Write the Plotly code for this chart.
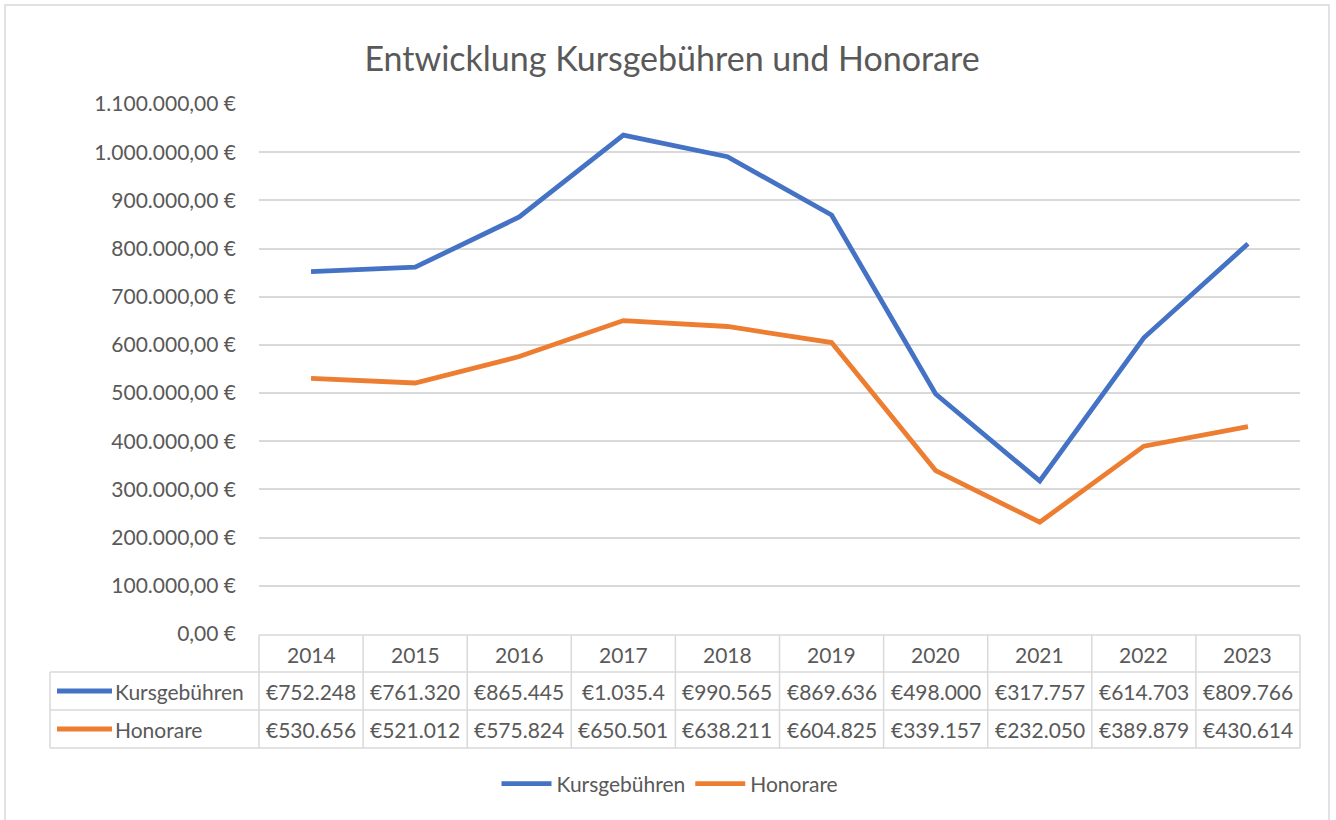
"""Entwicklung Kursgebühren und Honorare – line chart with Excel-style data table."""
import plotly.graph_objects as go

years = ["2014", "2015", "2016", "2017", "2018", "2019", "2020", "2021", "2022", "2023"]
kursgebuehren = [752248, 761320, 865445, 1035400, 990565, 869636, 498000, 317757, 614703, 809766]
honorare = [530656, 521012, 575824, 650501, 638211, 604825, 339157, 232050, 389879, 430614]
y_ticks = [i * 100000 for i in range(12)]

BLUE = "#4472C4"
ORANGE = "#ED7D31"
TEXT = "#595959"
GRID = "#D9D9D9"
FONT = "Lato"

W, H = 1336, 820
L, R, T, B = 259, 36, 104, 186
plot_w = W - L - R
plot_h = H - T - B


def px_x(x):
    """Pixel x -> paper x."""
    return (x - L) / plot_w


def px_y(y):
    """Pixel y (from top) -> paper y."""
    return (H - B - y) / plot_h


def euro_axis(v):
    s = f"{v:,.2f}".replace(",", "X").replace(".", ",").replace("X", ".")
    return s + " €"


def euro_cell(v, max_chars=8):
    # Excel clips the text that does not fit into the cell
    return ("€" + f"{v:,}".replace(",", "."))[:max_chars]


series = [("Kursgebühren", kursgebuehren, BLUE), ("Honorare", honorare, ORANGE)]

fig = go.Figure()
for name, values, color in series:
    fig.add_trace(go.Scatter(x=list(range(len(years))), y=values, name=name, mode="lines",
                             line=dict(color=color, width=4.8)))

# data table below the plot
row_y = [px_y(654), px_y(691), px_y(729)]
lines = [px_y(635), px_y(672), px_y(710), px_y(748)]
n = len(years)
left = px_x(50)
shapes = [dict(type="line", xref="paper", yref="paper", x0=0, x1=1, y0=lines[0], y1=lines[0])]
for yy in lines[1:]:
    shapes.append(dict(type="line", xref="paper", yref="paper", x0=left, x1=1, y0=yy, y1=yy))
shapes.append(dict(type="line", xref="paper", yref="paper", x0=left, x1=left, y0=lines[1], y1=lines[3]))
for k in range(n + 1):
    shapes.append(dict(type="line", xref="paper", yref="paper", x0=k / n, x1=k / n, y0=lines[0], y1=lines[3]))
for s in shapes:
    s["line"] = dict(color=GRID, width=1.5)

cell_font = dict(size=21, color=TEXT, family=FONT)
annotations = []
for i, yr in enumerate(years):
    annotations.append(dict(x=i, y=row_y[0], xref="x", yref="paper", text=yr, showarrow=False,
                            xanchor="center", yanchor="middle", font=cell_font))
for r, (name, values, color) in enumerate(series):
    yy = row_y[r + 1]
    shapes.append(dict(type="line", xref="paper", yref="paper", x0=px_x(57), x1=px_x(112), y0=yy, y1=yy,
                       line=dict(color=color, width=4.8)))
    annotations.append(dict(x=px_x(113), y=yy, xref="paper", yref="paper", text=name, showarrow=False,
                            xanchor="left", yanchor="middle", font=cell_font))
    for i, v in enumerate(values):
        annotations.append(dict(x=i, y=yy, xref="x", yref="paper", text=euro_cell(v), showarrow=False,
                                xanchor="center", yanchor="middle", font=cell_font))

# chart border
shapes.append(dict(type="rect", xref="paper", yref="paper", x0=px_x(5), x1=px_x(1329), y0=px_y(840), y1=px_y(5),
                   line=dict(color=GRID, width=1.5), layer="below"))

fig.update_layout(
    width=W, height=H,
    margin=dict(l=L, r=R, t=T, b=B),
    paper_bgcolor="white", plot_bgcolor="white",
    font=dict(family=FONT, color=TEXT, size=21),
    title=dict(text="Entwicklung Kursgebühren und Honorare", x=672 / W, xref="container",
               xanchor="center", y=1 - 59 / H, yref="container", yanchor="middle",
               font=dict(size=34, color=TEXT, family=FONT)),
    xaxis=dict(range=[-0.5, n - 0.5], showticklabels=False, showgrid=False,
               zeroline=False, showline=False, fixedrange=True),
    yaxis=dict(range=[0, 1100000], tickvals=y_ticks, ticktext=[euro_axis(v) for v in y_ticks],
               showgrid=True, gridcolor=GRID, gridwidth=1.5, zeroline=False, showline=False,
               ticklabelstandoff=22, tickfont=dict(size=21, color=TEXT, family=FONT)),
    legend=dict(orientation="h", xref="container", yref="container", x=670 / W, xanchor="center",
                y=1 - 784 / H, yanchor="middle", font=dict(size=21, color=TEXT, family=FONT),
                itemwidth=50),
    shapes=shapes,
    annotations=annotations,
)

# drop the default page margin so the figure sits at the window origin
fig.write_html("out.html", config={"displayModeBar": False},
               post_script="document.body.style.margin = '0';")
